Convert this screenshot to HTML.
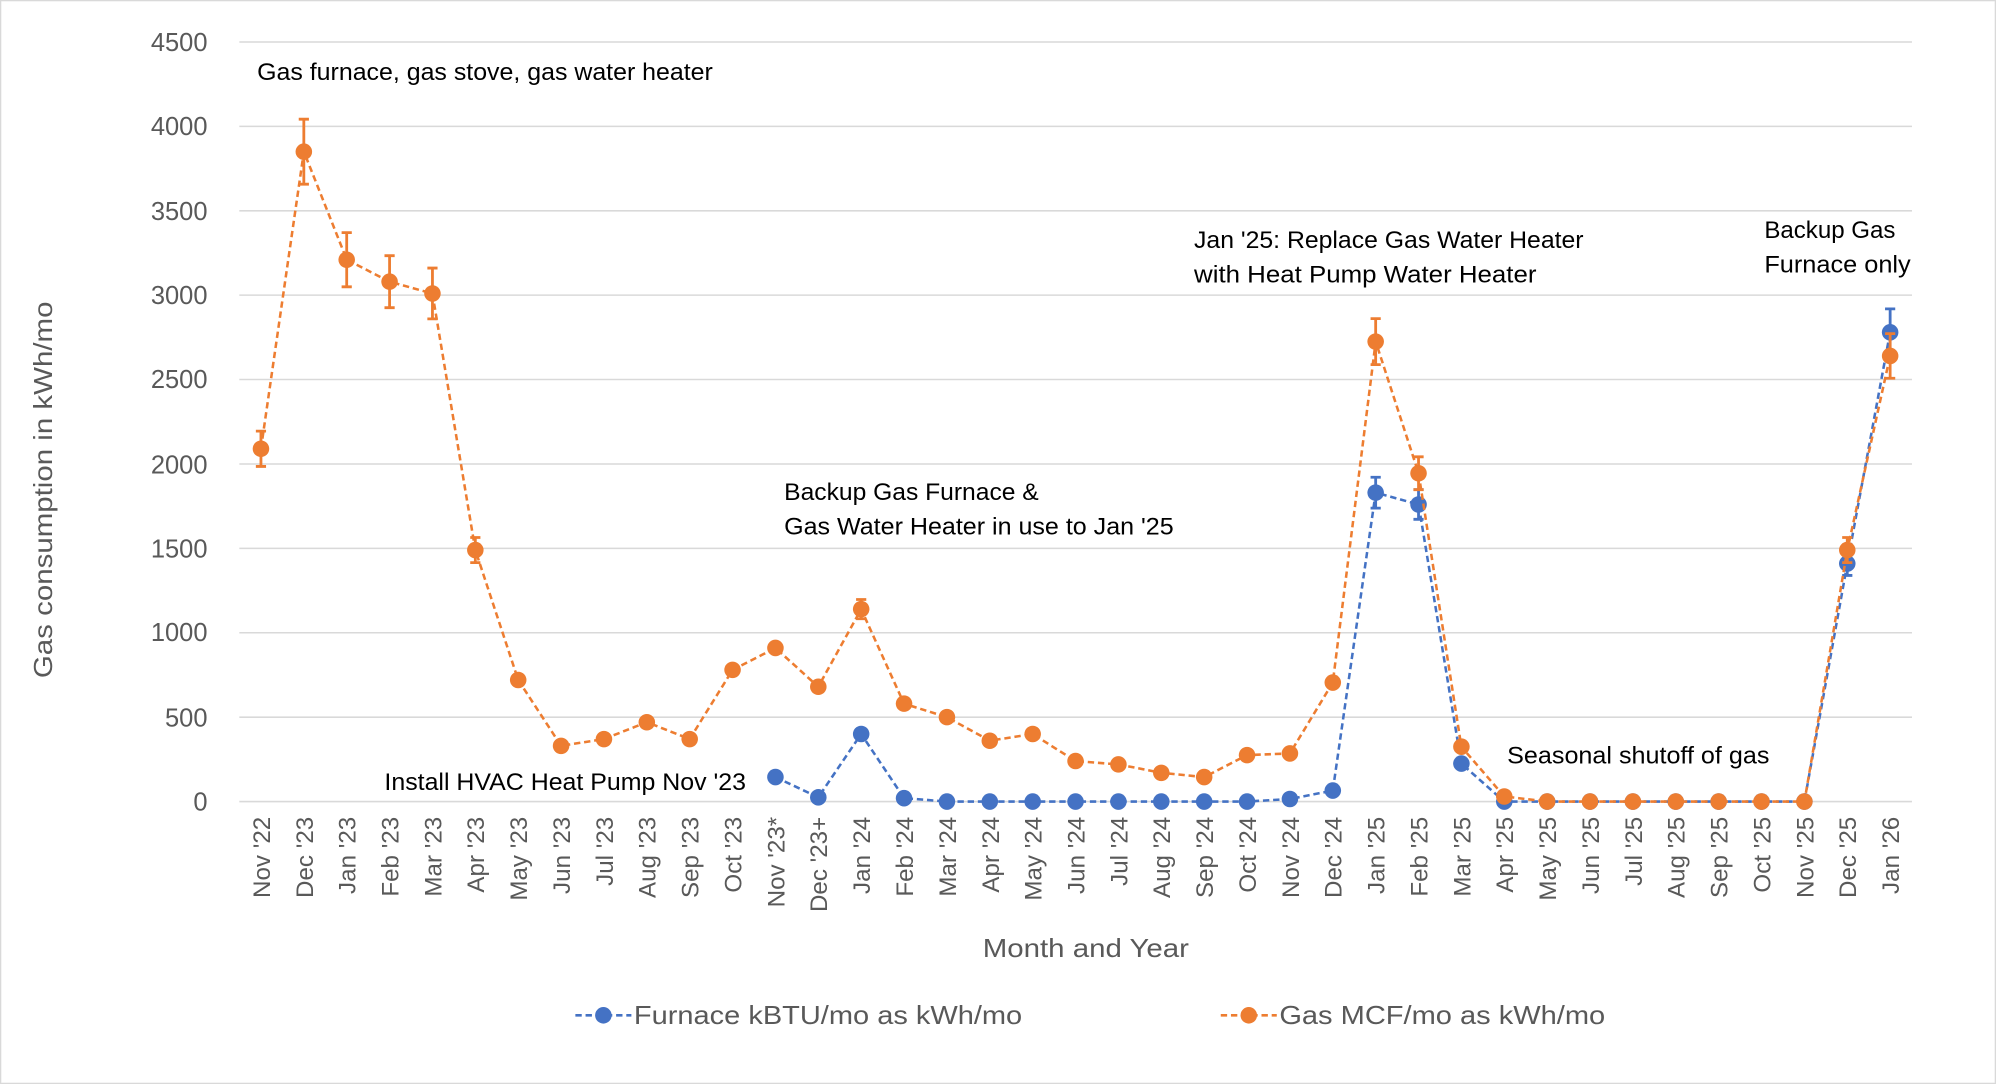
<!DOCTYPE html>
<html><head><meta charset="utf-8"><style>
html,body{margin:0;padding:0;background:#fff;width:1996px;height:1084px;overflow:hidden}
svg{display:block;font-family:"Liberation Sans",sans-serif}
</style></head><body>
<svg id="s" width="1996" height="1084" viewBox="0 0 1568 852" preserveAspectRatio="none">
<rect x="0.5" y="0.5" width="1567" height="851" fill="#fff" stroke="#d9d9d9"/>
<g stroke="#d9d9d9" stroke-width="1.2">
<line x1="188" x2="1502" y1="33" y2="33"/><line x1="188" x2="1502" y1="99.3" y2="99.3"/>
<line x1="188" x2="1502" y1="165.7" y2="165.7"/><line x1="188" x2="1502" y1="232" y2="232"/>
<line x1="188" x2="1502" y1="298.3" y2="298.3"/><line x1="188" x2="1502" y1="364.7" y2="364.7"/>
<line x1="188" x2="1502" y1="431" y2="431"/><line x1="188" x2="1502" y1="497.3" y2="497.3"/>
<line x1="188" x2="1502" y1="563.7" y2="563.7"/><line x1="188" x2="1502" y1="630" y2="630"/>
</g>
<g font-size="20" fill="#595959" text-anchor="end">
<text x="163" y="40">4500</text><text x="163" y="106">4000</text><text x="163" y="173">3500</text>
<text x="163" y="239">3000</text><text x="163" y="305">2500</text><text x="163" y="372">2000</text>
<text x="163" y="438">1500</text><text x="163" y="504">1000</text><text x="163" y="571">500</text>
<text x="163" y="637">0</text>
</g>
<text transform="translate(41,385) rotate(-90)" font-size="20" fill="#595959" text-anchor="middle" textLength="296" lengthAdjust="spacingAndGlyphs">Gas consumption in kWh/mo</text>
<text x="772" y="752" font-size="20" fill="#595959" textLength="162" lengthAdjust="spacingAndGlyphs">Month and Year</text>
<g font-size="19" fill="#595959" text-anchor="end">
<text transform="translate(212,642) rotate(-90)">Nov '22</text>
<text transform="translate(245.7,642) rotate(-90)">Dec '23</text>
<text transform="translate(279.4,642) rotate(-90)">Jan '23</text>
<text transform="translate(313,642) rotate(-90)">Feb '23</text>
<text transform="translate(346.7,642) rotate(-90)">Mar '23</text>
<text transform="translate(380.4,642) rotate(-90)">Apr '23</text>
<text transform="translate(414.1,642) rotate(-90)">May '23</text>
<text transform="translate(447.8,642) rotate(-90)">Jun '23</text>
<text transform="translate(481.4,642) rotate(-90)">Jul '23</text>
<text transform="translate(515.1,642) rotate(-90)">Aug '23</text>
<text transform="translate(548.8,642) rotate(-90)">Sep '23</text>
<text transform="translate(582.5,642) rotate(-90)">Oct '23</text>
<text transform="translate(616.2,642) rotate(-90)">Nov '23*</text>
<text transform="translate(649.8,642) rotate(-90)">Dec '23+</text>
<text transform="translate(683.5,642) rotate(-90)">Jan '24</text>
<text transform="translate(717.2,642) rotate(-90)">Feb '24</text>
<text transform="translate(750.9,642) rotate(-90)">Mar '24</text>
<text transform="translate(784.6,642) rotate(-90)">Apr '24</text>
<text transform="translate(818.2,642) rotate(-90)">May '24</text>
<text transform="translate(851.9,642) rotate(-90)">Jun '24</text>
<text transform="translate(885.6,642) rotate(-90)">Jul '24</text>
<text transform="translate(919.3,642) rotate(-90)">Aug '24</text>
<text transform="translate(953,642) rotate(-90)">Sep '24</text>
<text transform="translate(986.6,642) rotate(-90)">Oct '24</text>
<text transform="translate(1020.3,642) rotate(-90)">Nov '24</text>
<text transform="translate(1054,642) rotate(-90)">Dec '24</text>
<text transform="translate(1087.7,642) rotate(-90)">Jan '25</text>
<text transform="translate(1121.4,642) rotate(-90)">Feb '25</text>
<text transform="translate(1155,642) rotate(-90)">Mar '25</text>
<text transform="translate(1188.7,642) rotate(-90)">Apr '25</text>
<text transform="translate(1222.4,642) rotate(-90)">May '25</text>
<text transform="translate(1256.1,642) rotate(-90)">Jun '25</text>
<text transform="translate(1289.8,642) rotate(-90)">Jul '25</text>
<text transform="translate(1323.4,642) rotate(-90)">Aug '25</text>
<text transform="translate(1357.1,642) rotate(-90)">Sep '25</text>
<text transform="translate(1390.8,642) rotate(-90)">Oct '25</text>
<text transform="translate(1424.5,642) rotate(-90)">Nov '25</text>
<text transform="translate(1458.2,642) rotate(-90)">Dec '25</text>
<text transform="translate(1491.8,642) rotate(-90)">Jan '26</text>
</g>
<g font-size="19" fill="#000" lengthAdjust="spacingAndGlyphs">
<text x="202" y="63" textLength="358" lengthAdjust="spacingAndGlyphs">Gas furnace, gas stove, gas water heater</text>
<text x="616" y="393" textLength="200" lengthAdjust="spacingAndGlyphs">Backup Gas Furnace &amp;</text>
<text x="616" y="420" textLength="306" lengthAdjust="spacingAndGlyphs">Gas Water Heater in use to Jan '25</text>
<text x="302" y="621" textLength="284" lengthAdjust="spacingAndGlyphs">Install HVAC Heat Pump Nov '23</text>
<text x="938" y="195" textLength="306" lengthAdjust="spacingAndGlyphs">Jan '25: Replace Gas Water Heater</text>
<text x="938" y="222" textLength="269" lengthAdjust="spacingAndGlyphs">with Heat Pump Water Heater</text>
<text x="1386" y="187" textLength="103" lengthAdjust="spacingAndGlyphs">Backup Gas</text>
<text x="1386" y="214" textLength="115" lengthAdjust="spacingAndGlyphs">Furnace only</text>
<text x="1184" y="600" textLength="206" lengthAdjust="spacingAndGlyphs">Seasonal shutoff of gas</text>
</g>
<g id="series"></g>
<g font-size="20" fill="#595959">
<line x1="452" x2="496" y1="798" y2="798" stroke="#4472c4" stroke-width="2" stroke-dasharray="5,3"/>
<circle cx="474" cy="798" r="6.5" fill="#4472c4"/>
<text x="498" y="805" textLength="305" lengthAdjust="spacingAndGlyphs">Furnace kBTU/mo as kWh/mo</text>
<line x1="959" x2="1003" y1="798" y2="798" stroke="#ed7d31" stroke-width="2" stroke-dasharray="5,3"/>
<circle cx="981" cy="798" r="6.5" fill="#ed7d31"/>
<text x="1005" y="805" textLength="256" lengthAdjust="spacingAndGlyphs">Gas MCF/mo as kWh/mo</text>
</g>
</svg>
<script>
var X=i=>205+33.68*i, Y=v=>630-v*597/4500;
var o=[2090,3850,3210,3080,3010,1490,720,330,370,470,370,780,910,680,1140,580,500,360,400,240,220,170,145,275,285,705,2725,1945,325,30,0,0,0,0,0,0,0,1490,2640];
var b=[];for(var i=0;i<12;i++)b.push(null);
b=b.concat([145,25,400,20,0,0,0,0,0,0,0,0,15,65,1830,1760,225,0,0,0,0,0,0,0,0,1410,2780]);
var oe={0:.05,1:.05,2:.05,3:.05,4:.05,5:.05,14:.05,26:.05,27:.05,37:.05,38:.05};
var be={26:.05,27:.05,37:.05,38:.05};
var g=document.getElementById('series'),h='';
function ser(d,c,e){var p='';d.forEach((v,i)=>{if(v==null)return;p+=(p?'L':'M')+X(i).toFixed(1)+','+Y(v).toFixed(1)});
h+='<path d="'+p+'" fill="none" stroke="'+c+'" stroke-width="2" stroke-dasharray="5,3"/>';
d.forEach((v,i)=>{if(v==null)return;var x=X(i);if(e[i]){var a=Y(v*(1+e[i])),bb=Y(v*(1-e[i]));
h+='<path d="M'+x+','+a+'V'+bb+'M'+(x-4)+','+a+'h8M'+(x-4)+','+bb+'h8" stroke="'+c+'" stroke-width="2.2"/>';}
h+='<circle cx="'+x+'" cy="'+Y(v)+'" r="6.5" fill="'+c+'"/>';});}
ser(b,'#4472c4',be);ser(o,'#ed7d31',oe);
g.innerHTML=h;
</script>
</body></html>
